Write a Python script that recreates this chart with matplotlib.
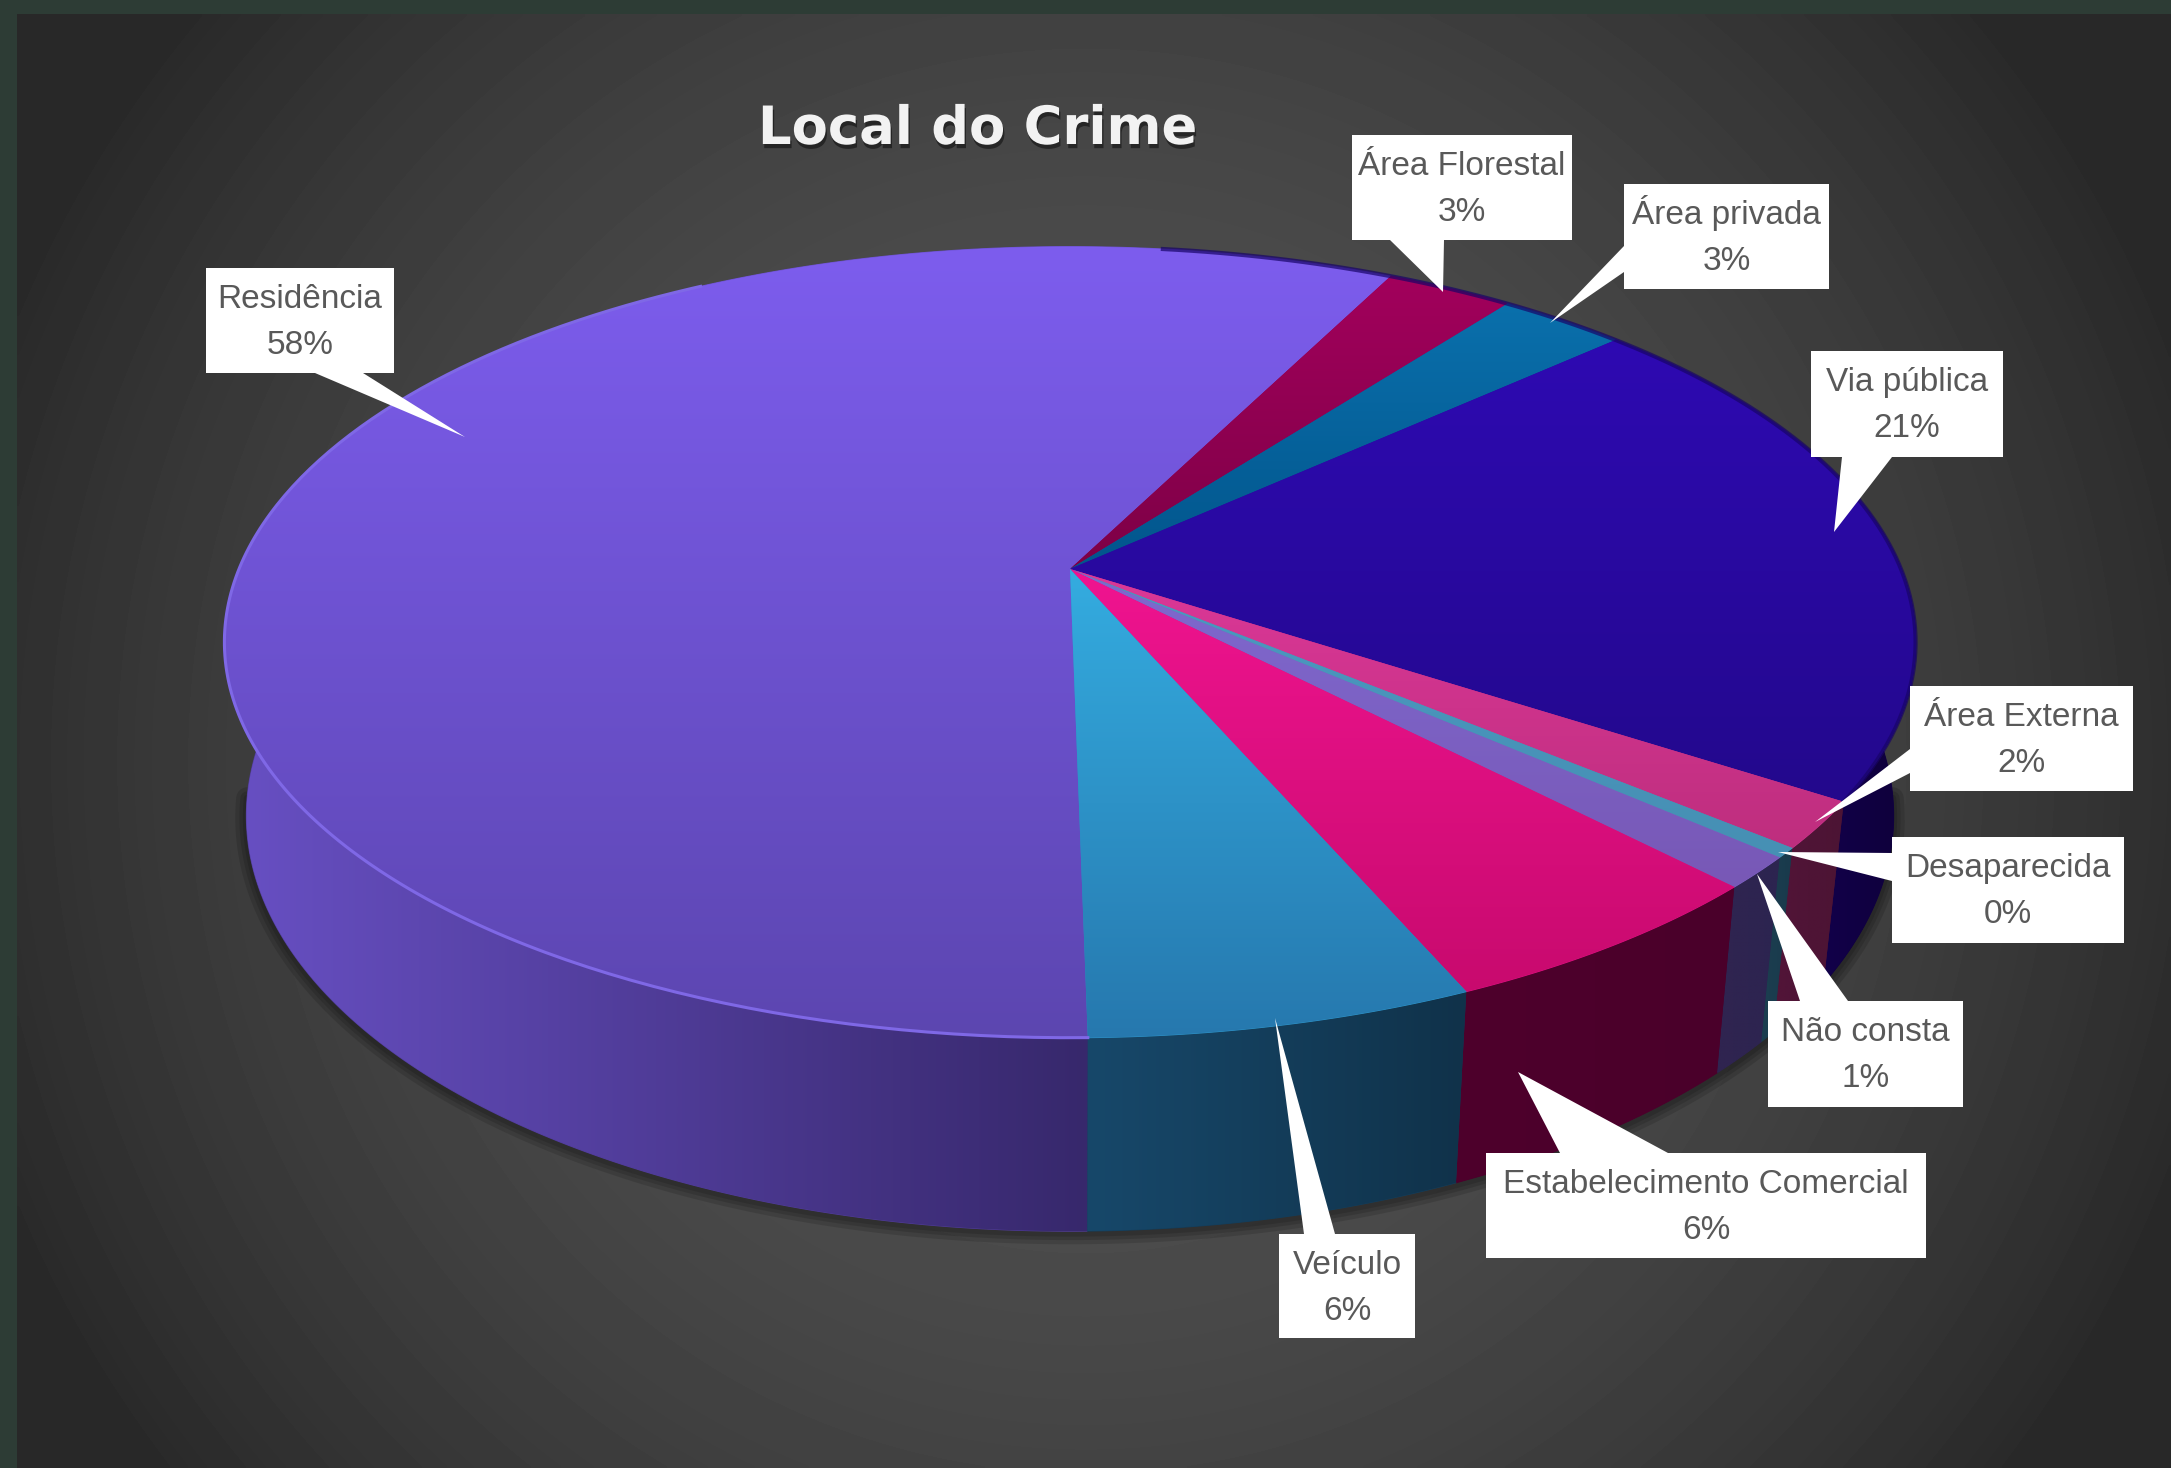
import numpy as np
import matplotlib
matplotlib.use("Agg")
import matplotlib.pyplot as plt
from matplotlib.patches import Polygon
from matplotlib.colors import to_rgb
import matplotlib.patheffects as pe

W, H = 2171, 1468

# data (percent share of each slice)
categorias = ["Residência", "Área Florestal", "Área privada", "Via pública", "Área Externa",
              "Desaparecida", "Não consta", "Estabelecimento Comercial", "Veículo"]
valores = [57.7, 2.9, 2.9, 21.0, 1.9, 0.4, 1.3, 5.7, 6.2]
titulo = "Local do Crime"
inicio = 179.0  # first slice starts here, degrees clockwise from the back of the pie

# colours: top face (far, near), side wall (left, right)
cor_topo = [("#7d5dee", "#5c46b0"), ("#a2005c", "#7d0046"), ("#0a70ac", "#02558c"),
            ("#2e0ab2", "#23088c"), ("#dc3898", "#be2e7e"), ("#4c98c0", "#4690b4"),
            ("#7f69cf", "#7858b6"), ("#f01490", "#c80a6e"), ("#34ace0", "#2678ae")]
cor_lado = [("#6850c4", "#37286c"), ("#500030", "#500030"), ("#04304c", "#04304c"),
            ("#12004a", "#0e0038"), ("#521438", "#4c1434"), ("#1c3e50", "#193a4c"),
            ("#302450", "#2c2450"), ("#4e002c", "#4a002a"), ("#17486a", "#10324a")]

# label boxes: left, right, top, bottom and the pointer triangle
caixas = [(206, 394, 268, 373), (1352, 1572, 135, 240), (1624, 1829, 184, 289),
          (1811, 2003, 351, 457), (1910, 2133, 686, 791), (1892, 2124, 837, 943),
          (1768, 1963, 1001, 1107), (1486, 1926, 1153, 1258), (1279, 1415, 1234, 1338)]
ponteiros = [[(315, 373), (465, 437), (363, 373)], [(1390, 240), (1443, 292), (1444, 240)],
             [(1624, 246), (1550, 323), (1624, 272)], [(1842, 457), (1834, 532), (1892, 457)],
             [(1910, 749), (1815, 822), (1910, 773)], [(1892, 853), (1778, 852), (1892, 881)],
             [(1800, 1001), (1757, 874), (1848, 1001)], [(1560, 1153), (1518, 1072), (1668, 1153)],
             [(1304, 1234), (1275, 1018), (1335, 1234)]]

# perspective of the pie
X0, Y0 = 1070.0, 569.0
A, B, K = 831.0, 382.0, 0.185
PROF, SX, SY = 170.0, 0.974, 1.05


def topo(t):
    t = np.radians(t)
    u, v = np.sin(t), np.cos(t)
    w = 1 + K * v
    return X0 + A * u / w, Y0 - B * v / w


def base(t):
    t = np.radians(t)
    u, v = np.sin(t), np.cos(t)
    w = 1 + K * v
    return X0 + SX * A * u / w, Y0 + PROF - SY * B * v / w


def gradiente(ax, pts, c1, c2, eixo, z):
    # flat polygon underneath hides seams, gradient image clipped on top
    c1, c2 = np.array(to_rgb(c1)), np.array(to_rgb(c2))
    pts = np.array(pts)
    ax.add_patch(Polygon(pts, closed=True, fc=(c1 + c2) / 2, ec=(c1 + c2) / 2, lw=0.8, zorder=z))
    s = np.linspace(0, 1, 256)[:, None]
    cores = c1 * (1 - s) + c2 * s
    if eixo == "x":
        img = cores[None, :, :]
    else:
        img = cores[:, None, :]
    ext = (pts[:, 0].min(), pts[:, 0].max(), pts[:, 1].max(), pts[:, 1].min())
    im = ax.imshow(img, extent=ext, origin="upper", aspect="auto", zorder=z + 0.1, interpolation="bilinear")
    im.set_clip_path(Polygon(pts, closed=True, transform=ax.transData))


fig = plt.figure(figsize=(W / 100, H / 100), dpi=100, facecolor="#2d3c35")
ax = fig.add_axes([0, 0, 1, 1])
ax.axis("off")

# chart area background
yy, xx = np.mgrid[14:H:4, 17:W:4]
d2 = ((xx - 1085) / 1000.0) ** 2 + ((yy - 760) / 1000.0) ** 2
fundo = np.clip(82 - 30 * d2, 40, 82) / 255.0
ax.imshow(fundo, cmap="gray", vmin=0, vmax=1, extent=(17, W, H, 14), origin="upper",
          aspect="auto", zorder=0, interpolation="bilinear")

# soft shadow below the front rim
t_sombra = np.linspace(98, 262, 200)
sx, sy = base(t_sombra)
for lw_s in [16, 10, 5]:
    ax.plot(sx, sy + 2, color="black", alpha=0.13, lw=lw_s, zorder=1, solid_capstyle="round")

limites = inicio + np.concatenate([[0], np.cumsum(valores)]) * 3.6

# side walls, only the part that faces the viewer
for i in range(len(valores)):
    a0, a1 = limites[i], limites[i + 1]
    if a1 > 360 and a0 > 300:
        a0, a1 = a0 - 360, a1 - 360
    a0b, a1b = max(a0, 80), min(a1, 280)
    if a1b <= a0b:
        continue
    t = np.linspace(a0b, a1b, 150)
    x1, y1 = topo(t)
    x2, y2 = base(t)
    pts = list(zip(x1, y1)) + list(zip(x2[::-1], y2[::-1]))
    c = cor_lado[i]
    # walls run clockwise, so on the left half the gradient is already right to left
    gradiente(ax, pts, c[0], c[1], "x", 2)

# top face
for i in range(len(valores)):
    t = np.linspace(limites[i], limites[i + 1], max(int(valores[i] * 12), 8))
    x1, y1 = topo(t)
    pts = [(X0, Y0)] + list(zip(x1, y1))
    gradiente(ax, pts, cor_topo[i][0], cor_topo[i][1], "y", 3)

# light rim on the large slice, dark rim on the right
t = np.linspace(limites[0], limites[0] + 150, 200)
x1, y1 = topo(t)
ax.plot(x1, y1, color="#7f68e6", lw=2.2, zorder=4)
t = np.linspace(limites[3] - 40, limites[4], 100)
x1, y1 = topo(t)
ax.plot(x1, y1, color="#180468", lw=3, zorder=4, alpha=0.7)

# title
ax.text(758, 144, titulo, family="DejaVu Sans", weight="bold", fontsize=38, color="#f2f2f2",
        ha="left", va="baseline", zorder=6,
        path_effects=[pe.SimplePatchShadow(offset=(1, -3), shadow_rgbFace="black", alpha=0.45), pe.Normal()])

# labels
for nome, v, cx, pt in zip(categorias, valores, caixas, ponteiros):
    esq, dir_, cima, baixo = cx
    ax.add_patch(Polygon(pt, closed=True, fc="white", ec="none", zorder=7))
    ax.add_patch(Polygon([(esq, cima), (dir_, cima), (dir_, baixo), (esq, baixo)], closed=True,
                         fc="white", ec="none", zorder=7))
    meio = (esq + dir_) / 2
    ax.text(meio, cima + 40, nome, family="Liberation Sans", fontsize=24, color="#595959",
            ha="center", va="baseline", zorder=8)
    ax.text(meio, cima + 86, f"{round(v)}%", family="Liberation Sans", fontsize=24, color="#595959",
            ha="center", va="baseline", zorder=8)

ax.set_xlim(0, W)
ax.set_ylim(H, 0)
fig.savefig("out.png", dpi=100, facecolor=fig.get_facecolor())
